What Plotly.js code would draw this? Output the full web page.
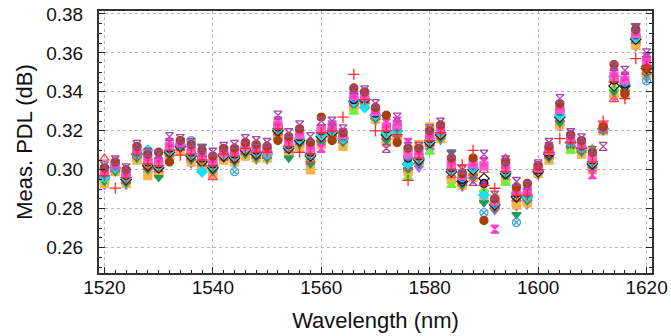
<!DOCTYPE html>
<html><head><meta charset="utf-8">
<script src="https://cdn.plot.ly/plotly-3.0.1.min.js"></script>
<style>html,body{margin:0;padding:0;background:#fff}#chart{width:671px;height:336px}</style>
</head><body><div id="chart"></div>
<script>
// Wavelengths (nm)
const wavelength = [1520,1522,1524,1526,1528,1530,1532,1534,1536,1538,1540,1542,1544,1546,1548,1550,1552,1554,1556,1558,1560,1562,1564,1566,1568,1570,1572,1574,1576,1578,1580,1582,1584,1586,1588,1590,1592,1594,1596,1598,1600,1602,1604,1606,1608,1610,1612,1614,1616,1618,1620];

// Measured PDL (dB), one array per measurement run
const runRedPlus = [.297,.2906,.296,.308,.303,.302,.310,.3075,.308,.305,.302,.308,.307,.311,.309,.309,.321,.312,.309,.308,.319,.320,.327,.349,.336,.320,.320,.318,.2945,.306,.315,.319,.300,.3025,.310,.292,.2905,.299,.287,.287,.300,.309,.316,.314,.311,.304,.325,.345,.3365,.357,.353];
const runRedTri = [.306,.300,.294,.307,.301,.300,.308,.311,.306,.303,.296,.306,.305,.309,.307,.307,.319,.310,.314,.305,.316,.318,.315,.334,.335,.327,.317,.318,.301,.304,.313,.317,.297,.293,.298,.2997,.281,.306,.285,.285,.299,.307,.326,.313,.310,.302,.320,.336,.341,.366,.350];
const runOrange = [.293,.299,.293,.305,.297,.298,.306,.310,.304,.301,.298,.305,.304,.307,.306,.306,.317,.308,.312,.300,.313,.317,.312,.332,.334,.326,.314,.317,.299,.313,.322,.316,.295,.292,.296,.285,.285,.295,.282,.283,.298,.305,.323,.311,.308,.300,.320,.339,.339,.364,.349];
const runBrown = [.301,.304,.300,.312,.308,.309,.304,.315,.313,.310,.307,.311,.311,.314,.313,.312,.315,.317,.321,.314,.327,.315,.319,.342,.340,.332,.328,.314,.311,.311,.320,.323,.306,.298,.306,.274,.285,.304,.291,.293,.302,.312,.334,.318,.315,.309,.322,.354,.339,.372,.352];
const runGreen = [.294,.299,.293,.306,.300,.296,.307,.311,.305,.312,.299,.306,.304,.308,.306,.306,.318,.306,.313,.303,.314,.317,.314,.333,.334,.326,.315,.317,.300,.303,.312,.316,.309,.292,.297,.283,.280,.296,.277,.284,.298,.306,.324,.311,.309,.301,.320,.340,.340,.374,.349];
const runLime = [.295,.300,.295,.307,.302,.301,.309,.312,.307,.304,.301,.307,.306,.310,.308,.308,.320,.311,.315,.306,.317,.319,.315,.3296,.335,.327,.318,.319,.296,.305,.309,.318,.292,.294,.299,.290,.281,.293,.285,.286,.299,.307,.332,.3095,.310,.311,.321,.342,.342,.366,.350];
const runCyan = [.296,.301,.296,.308,.310,.302,.310,.313,.308,.299,.302,.308,.307,.311,.309,.308,.321,.312,.316,.308,.318,.320,.316,.335,.332,.328,.319,.320,.303,.306,.315,.319,.300,.296,.301,.287,.283,.299,.288,.286,.300,.309,.328,.314,.311,.304,.321,.348,.344,.368,.353];
const runBlueX = [.298,.302,.298,.309,.305,.304,.312,.313,.315,.307,.304,.309,.299,.312,.311,.310,.323,.314,.318,.310,.321,.321,.317,.337,.337,.330,.322,.322,.307,.308,.317,.320,.302,.296,.302,.278,.283,.301,.273,.288,.301,.310,.330,.315,.312,.306,.321,.347,.345,.369,.3456];
const runNavy = [.298,.302,.297,.309,.304,.303,.311,.313,.309,.306,.303,.309,.308,.312,.310,.310,.322,.313,.317,.309,.320,.321,.317,.336,.337,.329,.321,.322,.306,.307,.316,.320,.301,.295,.302,.293,.283,.300,.288,.288,.300,.309,.330,.315,.312,.305,.321,.346,.344,.369,.354];
const runMagenta = [.300,.303,.299,.311,.307,.306,.314,.314,.312,.309,.306,.310,.310,.313,.312,.311,.325,.316,.320,.313,.311,.323,.319,.339,.339,.331,.324,.325,.314,.310,.319,.322,.305,.298,.304,.304,.2695,.303,.290,.290,.302,.312,.333,.317,.314,.2975,.322,.350,.348,.371,.358];
const runPurple = [.302,.305,.301,.313,.309,.308,.317,.316,.314,.311,.309,.312,.313,.316,.315,.314,.328,.319,.323,.317,.325,.325,.321,.341,.341,.334,.311,.327,.312,.312,.321,.3245,.308,.300,.294,.308,.287,.305,.294,.292,.303,.314,.3365,.319,.3164,.310,.312,.353,.351,.373,.360];
const runBlack = [.296,.301,.295,.308,.302,.301,.309,.312,.307,.304,.301,.307,.306,.310,.308,.308,.320,.311,.315,.307,.317,.319,.316,.335,.336,.328,.318,.320,.303,.305,.314,.318,.299,.294,.300,.2955,.282,.298,.286,.286,.299,.308,.327,.314,.311,.303,.321,.343,.343,.367,.352];
const runPink = [.299,.303,.298,.310,.305,.304,.312,.314,.310,.307,.305,.309,.309,.312,.311,.310,.323,.314,.318,.311,.321,.322,.318,.338,.338,.330,.322,.323,.308,.308,.317,.321,.303,.297,.303,.302,.284,.301,.289,.289,.301,.310,.331,.316,.313,.306,.322,.348,.346,.370,.356];
const runViolet = [.292,.299,.292,.305,.298,.297,.305,.310,.303,.300,.297,.305,.303,.307,.305,.305,.316,.307,.311,.302,.313,.316,.313,.331,.333,.325,.313,.315,.298,.301,.310,.315,.294,.291,.295,.288,.279,.294,.281,.282,.297,.305,.322,.311,.308,.299,.320,.337,.338,.363,.347];

// Tick labels
const xTickVals = [1520,1540,1560,1580,1600,1620];
const yTickVals = [0.26,0.28,0.30,0.32,0.34,0.36,0.38];

const styles = [
  [runViolet,  'triangle-down', '#b266ff', null],
  [runOrange,  'square', '#f7b545', null],
  [runGreen,   'triangle-down', '#1f9a5c', null],
  [runLime,    'triangle-up', '#6cf23a', null],
  [runRedTri,  'triangle-up-open', '#ff4545', null],
  [runBlack,   'diamond-open', '#222222', null],
  [runCyan,    'diamond', '#18e0ee', null],
  [runNavy,    'circle', '#5b3fc8', '#111'],
  [runBlueX,   'circle-x-open', '#3ea6dc', null],
  [runPink,    'square', '#ff5cc4', null],
  [runMagenta, 'hourglass', '#ff3ccf', null],
  [runBrown,   'circle', '#a5400f', null],
  [runPurple,  'hourglass-open', '#a346a8', null],
  [runRedPlus, 'cross-thin-open', '#ff2a2a', null]
];

const traces = styles.map(([y, sym, col, line]) => ({
  x: wavelength, y: y, type: 'scatter', mode: 'markers', showlegend: false,
  marker: {symbol: sym, size: 8, color: col,
           line: {color: line || col, width: line ? 1.2 : 1.3}}
}));

const fam = "'Liberation Sans', Arial, sans-serif";
const tickFont = {family: fam, size: 19, color: '#111'};
const titleFont = {family: fam, size: 22, color: '#111'};
const layout = {
  width: 671, height: 336,
  margin: {l: 99, r: 19, t: 11, b: 63},
  paper_bgcolor: '#fff', plot_bgcolor: '#fff',
  font: tickFont,
  xaxis: {
    range: [1519, 1621], tickvals: xTickVals, ticktext: xTickVals.map(String),
    ticks: 'inside', ticklen: 6, tickcolor: '#222', tickwidth: 1,
    minor: {dtick: 2, tick0: 1520, ticks: 'inside', ticklen: 3, tickcolor: '#222', showgrid: false},
    showline: true, linecolor: '#333', linewidth: 2, mirror: true,
    showgrid: true, gridcolor: '#b0b0f2', griddash: 'dot', gridwidth: 1,
    zeroline: false, tickfont: tickFont, ticklabelstandoff: -4,
    title: {text: 'Wavelength (nm)', font: titleFont, standoff: 16}
  },
  yaxis: {
    range: [0.247, 0.3815], tickvals: yTickVals, ticktext: yTickVals.map(v => v.toFixed(2)),
    ticks: 'inside', ticklen: 6, tickcolor: '#222', tickwidth: 1,
    minor: {dtick: 0.005, tick0: 0.26, ticks: 'inside', ticklen: 3, tickcolor: '#222', showgrid: false},
    showline: true, linecolor: '#333', linewidth: 2, mirror: 'ticks',
    showgrid: true, gridcolor: '#b0b0f2', griddash: 'dot', gridwidth: 1,
    zeroline: false, tickfont: tickFont, ticklabelstandoff: 10,
    title: {text: 'Meas. PDL (dB)', font: titleFont, standoff: 8}
  }
};

Plotly.newPlot('chart', traces, layout, {staticPlot: true, displayModeBar: false});
</script>
</body></html>
